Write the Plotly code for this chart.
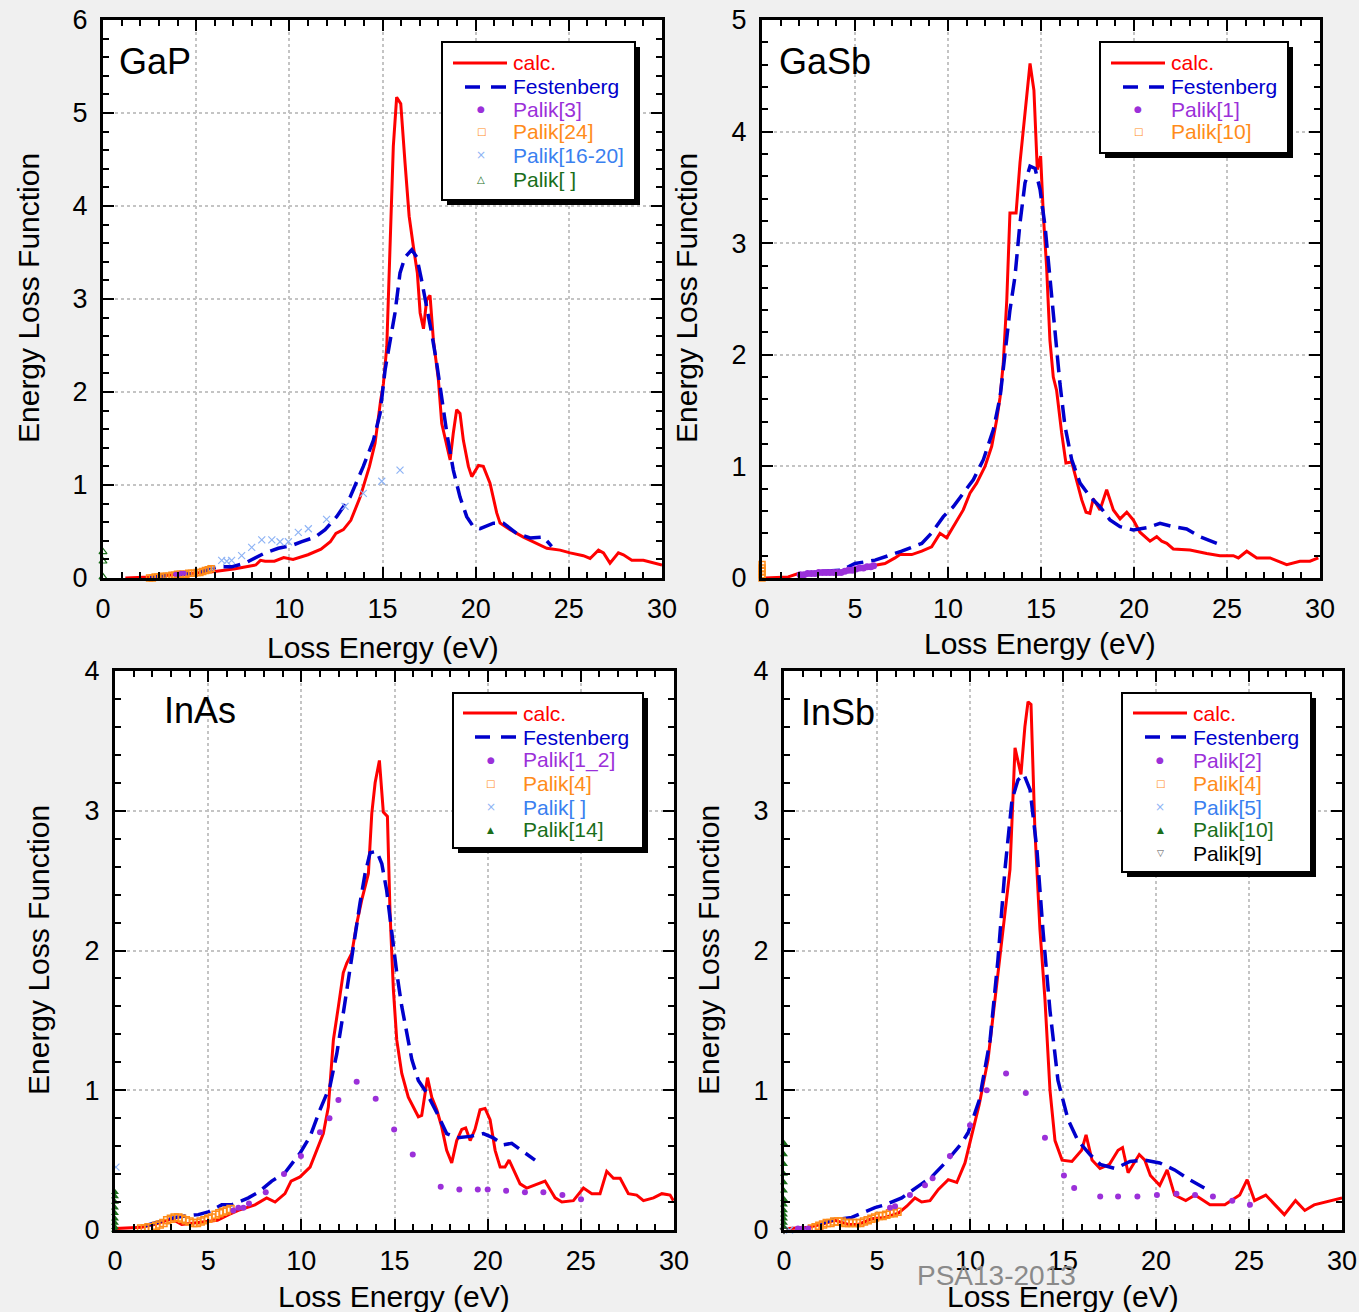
import plotly.graph_objects as go

W, H = 1359, 1312
FONT = "Liberation Sans, Arial, sans-serif"

# ---------------- DATA ----------------
# GaP
gap_calc_e = [1.2, 2.5, 3.5, 4.9, 6.0, 7.1, 8.2, 8.45, 8.7, 9.2, 9.7, 10.2, 11.0, 11.7, 12.2, 12.5, 12.9, 13.3, 13.8, 14.3,
              14.6, 14.9, 15.05, 15.23, 15.4, 15.58, 15.76, 15.98, 16.21, 16.43, 16.66, 16.87, 17.02, 17.2, 17.37,
              17.55, 17.73, 18.0, 18.18, 18.63, 18.8, 18.98, 19.16, 19.34, 19.61, 19.79, 20.15, 20.41, 20.77, 21.13,
              21.31, 21.85, 22.56, 23.28, 23.82, 24.53, 25.07, 25.78, 26.14, 26.59, 26.86, 27.21, 27.66, 27.93, 28.38,
              29.0, 29.54, 30.0]
gap_calc_v = [0.0, 0.01, 0.03, 0.05, 0.07, 0.10, 0.14, 0.19, 0.18, 0.18, 0.22, 0.20, 0.25, 0.31, 0.39, 0.48, 0.52, 0.62,
              0.87, 1.20, 1.45, 1.91, 2.09, 2.49, 3.56, 4.64, 5.17, 5.10, 4.46, 3.89, 3.56, 3.28, 2.85, 2.68, 2.99,
              3.04, 2.56, 2.13, 1.66, 1.27, 1.56, 1.81, 1.77, 1.48, 1.20, 1.09, 1.21, 1.20, 1.02, 0.70, 0.59, 0.52,
              0.44, 0.37, 0.32, 0.30, 0.27, 0.24, 0.21, 0.30, 0.27, 0.16, 0.27, 0.25, 0.19, 0.19, 0.16, 0.14]
gap_fest_e = [2.5, 4.94, 6.19, 6.9, 7.62, 8.7, 9.41, 10.13, 10.67, 11.38, 11.92, 12.54, 13.26, 13.97, 14.51, 14.87,
              15.14, 15.4, 15.67, 15.94, 16.21, 16.57, 16.84, 17.1, 17.37, 17.64, 17.91, 18.18, 18.45, 18.8, 19.16,
              19.52, 19.88, 20.24, 20.95, 21.49, 22.2, 22.92, 23.64, 24.08]
gap_fest_v = [0.01, 0.05, 0.12, 0.12, 0.16, 0.27, 0.32, 0.35, 0.39, 0.44, 0.52, 0.66, 0.87, 1.20, 1.48, 1.77, 2.24,
              2.56, 2.85, 3.28, 3.45, 3.53, 3.45, 3.20, 2.92, 2.63, 2.31, 1.91, 1.56, 1.16, 0.87, 0.66, 0.55, 0.53,
              0.59, 0.59, 0.48, 0.43, 0.44, 0.34]
gap_p3_e = [3.9, 4.05, 4.2, 4.35]
gap_p3_v = [0.04, 0.04, 0.05, 0.05]
gap_p24_e = [2.5, 2.65, 2.8, 2.95, 3.1, 3.25, 3.4, 3.55, 3.7, 3.85, 4.0, 4.15, 4.3, 4.45, 4.6, 4.75, 4.9, 5.05, 5.2,
             5.35, 5.5, 5.65, 5.8]
gap_p24_v = [0.00, 0.00, 0.01, 0.01, 0.01, 0.02, 0.02, 0.02, 0.03, 0.03, 0.04, 0.04, 0.04, 0.04, 0.05, 0.05, 0.05,
             0.06, 0.06, 0.07, 0.08, 0.09, 0.10]
gap_p1620_e = [5.83, 6.37, 6.64, 6.9, 7.44, 7.98, 8.52, 9.06, 9.5, 9.95, 10.48, 11.02, 12.0, 12.99, 13.97, 14.96, 15.94]
gap_p1620_v = [0.10, 0.19, 0.18, 0.19, 0.24, 0.33, 0.41, 0.41, 0.39, 0.39, 0.49, 0.53, 0.63, 0.77, 0.91, 1.04, 1.16]
gap_pe_e = [0.0, 0.0, 0.0]
gap_pe_v = [0.01, 0.18, 0.28]

# GaSb
gasb_calc_e = [0.16, 1.41, 1.95, 3.2, 4.28, 5.54, 6.61, 7.15, 7.42, 8.05, 8.59, 9.12, 9.57, 9.93, 10.38, 10.82, 11.18,
               11.54, 11.99, 12.35, 12.62, 12.8, 12.97, 13.16, 13.33, 13.66, 13.87, 14.14, 14.41, 14.62, 14.8, 14.98,
               15.13, 15.3, 15.48, 15.66, 15.84, 16.11, 16.34, 16.65, 16.92, 17.19, 17.42, 17.63, 17.81, 18.17, 18.53,
               18.89, 19.25, 19.61, 19.96, 20.32, 20.86, 21.22, 21.49, 21.76, 22.11, 23.01, 23.91, 24.62, 25.34, 25.61,
               26.06, 26.6, 27.31, 28.21, 28.92, 29.46, 29.91]
gasb_calc_v = [0.0, 0.01, 0.04, 0.04, 0.06, 0.10, 0.13, 0.18, 0.21, 0.21, 0.24, 0.28, 0.40, 0.36, 0.49, 0.61, 0.76,
               0.85, 1.0, 1.18, 1.42, 1.62, 1.92, 2.49, 3.27, 3.27, 3.72, 4.19, 4.61, 4.37, 3.66, 3.78, 3.24, 2.79,
               2.13, 1.80, 1.68, 1.30, 1.03, 1.04, 0.88, 0.70, 0.59, 0.58, 0.71, 0.61, 0.79, 0.61, 0.53, 0.59, 0.52,
               0.41, 0.33, 0.37, 0.33, 0.31, 0.26, 0.25, 0.22, 0.20, 0.20, 0.18, 0.24, 0.18, 0.18, 0.12, 0.15, 0.15,
               0.18]
gasb_fest_e = [1.95, 3.2, 4.28, 5.0, 6.08, 7.51, 8.59, 9.1, 9.75, 10.29, 10.82, 11.36, 11.9, 12.44, 12.8, 13.06, 13.33,
               13.6, 13.87, 14.14, 14.41, 14.68, 14.95, 15.22, 15.48, 15.75, 16.02, 16.29, 16.65, 17.1, 17.63, 18.17,
               18.71, 19.25, 19.96, 20.68, 21.4, 22.11, 22.83, 23.55, 24.62]
gasb_fest_v = [0.03, 0.06, 0.07, 0.13, 0.16, 0.24, 0.31, 0.40, 0.55, 0.64, 0.76, 0.88, 1.06, 1.33, 1.62, 1.98, 2.40,
               2.70, 3.18, 3.54, 3.69, 3.67, 3.48, 3.15, 2.70, 2.28, 1.74, 1.36, 1.06, 0.85, 0.73, 0.64, 0.52, 0.46,
               0.43, 0.45, 0.49, 0.46, 0.44, 0.37, 0.30]
gasb_p1_e = [2.05, 2.25, 2.45, 2.65, 2.85, 3.05, 3.25, 3.45, 3.65, 3.85, 4.05, 4.25, 4.45, 4.65, 4.85, 5.05, 5.25,
             5.45, 5.65, 5.85, 6.0]
gasb_p1_v = [0.03, 0.03, 0.04, 0.04, 0.04, 0.05, 0.05, 0.05, 0.05, 0.05, 0.05, 0.05, 0.06, 0.07, 0.07, 0.08, 0.09,
             0.09, 0.10, 0.10, 0.11]
gasb_p10_e = [0.0, 0.0, 0.0, 0.0, 0.0]
gasb_p10_v = [0.0, 0.03, 0.06, 0.09, 0.12]

# InAs
inas_calc_e = [0, 1.43, 2.15, 3.04, 3.58, 4.29, 4.83, 5.5, 6.1, 6.62, 7.51, 8.14, 8.59, 9.12, 9.45, 9.93, 10.47, 10.83,
               11.18, 11.45, 11.72, 11.99, 12.25, 12.44, 12.71, 12.97, 13.24, 13.6, 13.78, 13.96, 14.19, 14.4, 14.62,
               14.76, 14.94, 15.12, 15.39, 15.74, 16.01, 16.28, 16.46, 16.77, 17.0, 17.27, 17.53, 17.8, 18.07, 18.34,
               18.61, 18.82, 19.06, 19.32, 19.59, 19.86, 20.13, 20.4, 20.67, 20.93, 21.15, 21.38, 21.74, 22.1, 22.54,
               23.08, 23.35, 23.62, 23.98, 24.6, 25.14, 25.59, 26.03, 26.39, 26.75, 27.11, 27.55, 28.0, 28.36, 28.9,
               29.35, 29.79, 29.97]
inas_calc_v = [0.01, 0.02, 0.04, 0.08, 0.04, 0.05, 0.06, 0.07, 0.11, 0.14, 0.18, 0.23, 0.20, 0.26, 0.35, 0.38, 0.45,
               0.57, 0.69, 0.88, 1.36, 1.60, 1.84, 1.91, 1.98, 2.19, 2.36, 2.55, 2.98, 3.20, 3.36, 2.99, 2.96, 2.27,
               1.72, 1.36, 1.12, 0.95, 0.88, 0.81, 0.82, 1.09, 0.95, 0.86, 0.74, 0.57, 0.48, 0.64, 0.72, 0.73, 0.64,
               0.72, 0.86, 0.87, 0.79, 0.57, 0.45, 0.45, 0.50, 0.43, 0.33, 0.30, 0.32, 0.35, 0.29, 0.23, 0.20, 0.21,
               0.30, 0.26, 0.26, 0.42, 0.37, 0.37, 0.26, 0.25, 0.21, 0.23, 0.26, 0.25, 0.21]
inas_fest_e = [1.61, 3.22, 3.76, 4.47, 5.01, 5.73, 6.26, 7.16, 7.69, 8.41, 9.12, 9.66, 9.93, 10.47, 11.0, 11.54, 11.9,
               12.25, 12.61, 12.88, 13.15, 13.42, 13.69, 14.05, 14.32, 14.58, 14.85, 15.12, 15.39, 15.66, 15.93, 16.28,
               16.73, 17.27, 17.8, 18.34, 19.06, 19.77, 20.3, 20.84, 21.29, 21.92, 22.54]
inas_fest_v = [0.03, 0.09, 0.10, 0.11, 0.13, 0.18, 0.18, 0.23, 0.27, 0.35, 0.41, 0.50, 0.55, 0.67, 0.86, 1.03, 1.26,
               1.55, 1.88, 2.10, 2.34, 2.55, 2.70, 2.71, 2.62, 2.43, 2.12, 1.84, 1.60, 1.41, 1.22, 1.07, 0.98, 0.84,
               0.69, 0.66, 0.67, 0.69, 0.66, 0.61, 0.62, 0.56, 0.50]
inas_p12_e = [6.35, 6.62, 6.89, 7.19, 8.09, 9.07, 9.98, 11.0, 11.51, 11.99, 12.97, 13.99, 14.98, 15.98, 17.48, 18.48,
              19.47, 20.0, 20.99, 22.0, 22.99, 24.01, 25.01]
inas_p12_v = [0.14, 0.16, 0.16, 0.19, 0.27, 0.40, 0.53, 0.70, 0.80, 0.93, 1.06, 0.94, 0.72, 0.54, 0.31, 0.29, 0.29,
              0.29, 0.28, 0.27, 0.27, 0.25, 0.22]
inas_p4_e = [1.4, 1.6, 1.8, 2.0, 2.2, 2.4, 2.6, 2.8, 3.0, 3.2, 3.4, 3.6, 3.8, 4.0, 4.2, 4.4, 4.6, 4.8, 5.0, 5.2, 5.4,
             5.6, 5.8, 6.0, 6.2]
inas_p4_v = [0.01, 0.01, 0.02, 0.02, 0.03, 0.04, 0.05, 0.07, 0.08, 0.09, 0.09, 0.08, 0.07, 0.06, 0.05, 0.05, 0.06,
             0.07, 0.08, 0.09, 0.11, 0.12, 0.13, 0.14, 0.15]
inas_pe_e = [0.05]
inas_pe_v = [0.45]
inas_p14_e = [0, 0, 0, 0, 0, 0, 0, 0, 0]
inas_p14_v = [0.0, 0.02, 0.05, 0.08, 0.12, 0.16, 0.20, 0.24, 0.27]

# InSb
insb_calc_e = [0.23, 1.31, 2.03, 2.74, 3.46, 4.0, 4.71, 5.43, 6.15, 6.6, 7.04, 7.4, 7.85, 8.3, 8.83, 9.29, 9.73, 10.09,
               10.5, 10.97, 11.6, 12.15, 12.42, 12.74, 12.95, 13.12, 13.28, 13.49, 13.76, 14.03, 14.3, 14.57, 14.95,
               15.48, 16.0, 16.24, 16.56, 16.99, 17.5, 17.96, 18.2, 18.5, 19.1, 19.4, 19.7, 20.2, 20.6, 21.0, 21.6,
               22.1, 22.9, 23.7, 24.5, 24.9, 25.3, 25.9, 26.4, 26.9, 27.5, 28.0, 28.5, 29.4, 30.0]
insb_calc_v = [0.01, 0.02, 0.04, 0.07, 0.04, 0.04, 0.08, 0.09, 0.12, 0.17, 0.23, 0.20, 0.21, 0.29, 0.36, 0.34, 0.48,
               0.67, 0.90, 1.22, 1.93, 2.58, 3.45, 3.26, 3.60, 3.78, 3.76, 2.86, 2.15, 1.65, 1.00, 0.64, 0.50, 0.49,
               0.57, 0.68, 0.50, 0.44, 0.47, 0.57, 0.59, 0.41, 0.54, 0.50, 0.39, 0.32, 0.43, 0.25, 0.21, 0.25, 0.18,
               0.18, 0.25, 0.36, 0.21, 0.25, 0.18, 0.11, 0.21, 0.14, 0.18, 0.21, 0.23]
insb_fest_e = [1.84, 2.56, 3.64, 4.89, 5.43, 6.33, 7.4, 7.94, 8.66, 9.02, 9.55, 9.91, 10.5, 11.08, 11.5, 11.88, 12.26,
               12.58, 12.9, 13.23, 13.6, 13.92, 14.3, 14.73, 15.27, 15.8, 16.45, 17.0, 17.8, 18.6, 19.4, 20.2, 21.0,
               21.8, 22.6]
insb_fest_v = [0.04, 0.07, 0.09, 0.16, 0.18, 0.23, 0.33, 0.38, 0.48, 0.54, 0.62, 0.70, 0.93, 1.36, 1.93, 2.58, 3.08,
               3.22, 3.26, 3.15, 2.72, 2.15, 1.57, 1.07, 0.79, 0.64, 0.54, 0.47, 0.44, 0.49, 0.50, 0.48, 0.43, 0.36,
               0.30]
insb_p2_e = [0.75, 1.0, 1.3, 5.7, 5.97, 6.77, 7.58, 7.99, 8.92, 10.0, 10.9, 11.94, 13.0, 14.03, 15.05, 15.6, 17.0,
             17.96, 19.0, 20.05, 21.1, 22.1, 23.06, 24.1, 25.05]
insb_p2_v = [0.01, 0.01, 0.01, 0.16, 0.17, 0.25, 0.32, 0.37, 0.53, 0.75, 1.0, 1.12, 0.98, 0.66, 0.39, 0.30, 0.24,
             0.24, 0.24, 0.25, 0.26, 0.25, 0.24, 0.21, 0.18]
insb_p4_e = [1.5, 1.7, 1.9, 2.1, 2.3, 2.5, 2.7, 2.9, 3.1, 3.3, 3.5, 3.7, 3.9, 4.1, 4.3, 4.5, 4.7, 4.9, 5.1, 5.3, 5.5,
             5.7, 5.9, 6.1]
insb_p4_v = [0.01, 0.02, 0.03, 0.04, 0.05, 0.05, 0.06, 0.06, 0.06, 0.05, 0.05, 0.05, 0.05, 0.05, 0.06, 0.07, 0.08,
             0.09, 0.10, 0.10, 0.11, 0.12, 0.12, 0.13]
insb_p5_e = [0.3]
insb_p5_v = [0.0]
insb_p10_e = [0, 0, 0, 0, 0, 0, 0, 0, 0, 0, 0, 0, 0]
insb_p10_v = [0.02, 0.05, 0.08, 0.11, 0.14, 0.18, 0.22, 0.28, 0.34, 0.40, 0.47, 0.54, 0.62]
insb_p9_e = [0.0]
insb_p9_v = [0.0]

x_ticks = [0, 5, 10, 15, 20, 25, 30]

# ---------------- STYLE ----------------
RED = "#ff0000"
BLUE = "#0000cc"
PURPLE = "#9b30d9"
ORANGE = "#ff8c1a"
LBLUE = "#8fb4f5"
LBLUE_TXT = "#3a80f0"
GREEN = "#1a6e1a"
BLACK = "#000000"


def px(x):
    return x / W


def py(y):
    return 1 - y / H


fig = go.Figure()

panels = [
    dict(label="GaP", box=(103, 662, 20, 578), ymax=6),
    dict(label="GaSb", box=(762, 1320, 20, 578), ymax=5),
    dict(label="InAs", box=(115, 674, 671, 1230), ymax=4),
    dict(label="InSb", box=(784, 1342, 671, 1230), ymax=4),
]

for i, p in enumerate(panels):
    sfx = "" if i == 0 else str(i + 1)
    x0, x1, y0, y1 = p["box"]
    common = dict(
        showline=True, linewidth=3, linecolor="black", mirror="allticks",
        ticks="inside", ticklen=11, tickwidth=2, tickcolor="black",
        showgrid=True, gridcolor="#c4c4c4", gridwidth=2, griddash="dot",
        zeroline=False, automargin=False,
        tickfont=dict(family=FONT, size=27, color="black"),
    )
    fig.layout["xaxis" + sfx] = dict(
        domain=[px(x0), px(x1)], range=[0, 30], anchor="y" + sfx,
        tickvals=x_ticks, ticklabelstandoff=5,
        minor=dict(dtick=1, ticks="inside", ticklen=6, tickwidth=2, tickcolor="black", showgrid=False),
        **common)
    fig.layout["yaxis" + sfx] = dict(
        domain=[py(y1), py(y0)], range=[0, p["ymax"]], anchor="x" + sfx,
        dtick=1, ticklabelstandoff=7,
        minor=dict(dtick=0.2, ticks="inside", ticklen=6, tickwidth=2, tickcolor="black", showgrid=False),
        **common)


def line(e, v, ax, color, dash=None, width=3):
    fig.add_trace(go.Scatter(x=e, y=v, xaxis="x" + ax, yaxis="y" + ax, mode="lines",
                             line=dict(color=color, width=width, dash=dash), showlegend=False,
                             hoverinfo="skip"))


def mark(e, v, ax, color, symbol, size=6, lw=1.5):
    fig.add_trace(go.Scatter(x=e, y=v, xaxis="x" + ax, yaxis="y" + ax, mode="markers",
                             marker=dict(color=color, symbol=symbol, size=size, line=dict(color=color, width=lw)),
                             showlegend=False, cliponaxis=False, hoverinfo="skip"))


DASH = "17px,8px"
# GaP
line(gap_calc_e, gap_calc_v, "", RED)
line(gap_fest_e, gap_fest_v, "", BLUE, DASH, 3.5)
mark(gap_p1620_e, gap_p1620_v, "", LBLUE, "x-thin-open", 7, 1.2)
mark(gap_p24_e, gap_p24_v, "", ORANGE, "square-open", 6, 1.5)
mark(gap_p3_e, gap_p3_v, "", PURPLE, "circle", 5, 0)
mark(gap_pe_e, gap_pe_v, "", GREEN, "triangle-up-open", 7, 1.2)
# GaSb
line(gasb_calc_e, gasb_calc_v, "2", RED)
line(gasb_fest_e, gasb_fest_v, "2", BLUE, DASH, 3.5)
mark(gasb_p1_e, gasb_p1_v, "2", PURPLE, "circle", 7, 0)
mark(gasb_p10_e, gasb_p10_v, "2", ORANGE, "square-open", 6, 1.5)
# InAs
line(inas_calc_e, inas_calc_v, "3", RED)
line(inas_fest_e, inas_fest_v, "3", BLUE, DASH, 3.5)
mark(inas_p4_e, inas_p4_v, "3", ORANGE, "square-open", 7, 1.5)
mark(inas_p12_e, inas_p12_v, "3", PURPLE, "circle", 6, 0)
mark(inas_pe_e, inas_pe_v, "3", LBLUE, "x-thin-open", 7, 1.2)
mark(inas_p14_e, inas_p14_v, "3", GREEN, "triangle-up", 7, 0)
# InSb
line(insb_calc_e, insb_calc_v, "4", RED)
line(insb_fest_e, insb_fest_v, "4", BLUE, DASH, 3.5)
mark(insb_p4_e, insb_p4_v, "4", ORANGE, "square-open", 7, 1.5)
mark(insb_p2_e, insb_p2_v, "4", PURPLE, "circle", 6, 0)
mark(insb_p5_e, insb_p5_v, "4", LBLUE, "x-thin-open", 7, 1.2)
mark(insb_p10_e, insb_p10_v, "4", GREEN, "triangle-up", 7, 0)
mark(insb_p9_e, insb_p9_v, "4", "#444444", "triangle-down-open", 7, 1.2)

# ---------------- LEGENDS (drawn manually) ----------------
legends = [
    dict(box=(442, 42, 635, 200), line=(453, 507), dash=(465, 506), mx=481, tx=511,
         rows=[63, 87, 109, 132, 155, 179],
         items=[("line", RED, "calc."), ("dash", BLUE, "Festenberg"),
                (("●", 9, PURPLE), PURPLE, "Palik[3]"), (("□", 10, ORANGE), ORANGE, "Palik[24]"),
                (("×", 12, LBLUE), LBLUE_TXT, "Palik[16-20]"), (("△", 10, GREEN), GREEN, "Palik[ ]")]),
    dict(box=(1100, 42, 1288, 153), line=(1111, 1165), dash=(1123, 1164), mx=1138, tx=1169,
         rows=[63, 87, 109, 132],
         items=[("line", RED, "calc."), ("dash", BLUE, "Festenberg"),
                (("●", 9, PURPLE), PURPLE, "Palik[1]"), (("□", 10, ORANGE), ORANGE, "Palik[10]")]),
    dict(box=(453, 693, 643, 848), line=(463, 517), dash=(475, 516), mx=491, tx=521,
         rows=[713, 737, 760, 783, 807, 830],
         items=[("line", RED, "calc."), ("dash", BLUE, "Festenberg"),
                (("●", 9, PURPLE), PURPLE, "Palik[1_2]"), (("□", 10, ORANGE), ORANGE, "Palik[4]"),
                (("×", 12, LBLUE), LBLUE_TXT, "Palik[ ]"), (("▲", 9, GREEN), GREEN, "Palik[14]")]),
    dict(box=(1122, 693, 1311, 872), line=(1133, 1187), dash=(1145, 1186), mx=1160, tx=1191,
         rows=[713, 737, 760, 783, 807, 830, 853],
         items=[("line", RED, "calc."), ("dash", BLUE, "Festenberg"),
                (("●", 9, PURPLE), PURPLE, "Palik[2]"), (("□", 10, ORANGE), ORANGE, "Palik[4]"),
                (("×", 12, LBLUE), LBLUE_TXT, "Palik[5]"), (("▲", 9, GREEN), GREEN, "Palik[10]"),
                (("▽", 9, "#555555"), BLACK, "Palik[9]")]),
]

shapes = []
annotations = []
for lg in legends:
    bx0, by0, bx1, by1 = lg["box"]
    shapes.append(dict(type="rect", xref="paper", yref="paper", layer="above",
                       x0=px(bx0 + 5), x1=px(bx1 + 5), y0=py(by1 + 5), y1=py(by0 + 5),
                       fillcolor="black", line=dict(width=0)))
    shapes.append(dict(type="rect", xref="paper", yref="paper", layer="above",
                       x0=px(bx0), x1=px(bx1), y0=py(by1), y1=py(by0),
                       fillcolor="white", line=dict(color="black", width=2)))
    for (kind, tcol, text), ry in zip(lg["items"], lg["rows"]):
        if kind == "line":
            shapes.append(dict(type="line", xref="paper", yref="paper", layer="above",
                               x0=px(lg["line"][0]), x1=px(lg["line"][1]), y0=py(ry), y1=py(ry),
                               line=dict(color=RED, width=3)))
        elif kind == "dash":
            shapes.append(dict(type="line", xref="paper", yref="paper", layer="above",
                               x0=px(lg["dash"][0]), x1=px(lg["dash"][1]), y0=py(ry), y1=py(ry),
                               line=dict(color=BLUE, width=3.5, dash="15px,11px")))
        else:
            g, gs, gc = kind
            annotations.append(dict(xref="paper", yref="paper", x=px(lg["mx"]), y=py(ry), text=g,
                                    showarrow=False, xanchor="center", yanchor="middle",
                                    font=dict(family="DejaVu Sans", size=gs, color=gc)))
        annotations.append(dict(xref="paper", yref="paper", x=px(lg["tx"]), y=py(ry), text=text,
                                showarrow=False, xanchor="left", yanchor="middle",
                                font=dict(family=FONT, size=21, color=tcol)))

# panel labels
for lab, (lx, ly) in zip(["GaP", "GaSb", "InAs", "InSb"], [(117, 61), (777, 61), (162, 711), (799, 712)]):
    annotations.append(dict(xref="paper", yref="paper", x=px(lx), y=py(ly), text=lab, showarrow=False,
                            xanchor="left", yanchor="middle", font=dict(family=FONT, size=36, color="black")))

# axis titles
for (cx, cy) in [(383, 647), (1040, 643), (394, 1296), (1063, 1296)]:
    annotations.append(dict(xref="paper", yref="paper", x=px(cx), y=py(cy), text="Loss Energy (eV)",
                            showarrow=False, xanchor="center", yanchor="middle",
                            font=dict(family=FONT, size=30, color="black")))
for (cx, cy) in [(28, 298), (686, 298), (38, 950), (708, 950)]:
    annotations.append(dict(xref="paper", yref="paper", x=px(cx), y=py(cy), text="Energy Loss Function",
                            showarrow=False, xanchor="center", yanchor="middle", textangle=-90,
                            font=dict(family=FONT, size=30, color="black")))

# watermark (overlaps the axis labels in the original too)
annotations.append(dict(xref="paper", yref="paper", x=px(996), y=py(1275), text="PSA13-2013",
                        showarrow=False, xanchor="center", yanchor="middle",
                        font=dict(family=FONT, size=28, color="#8a8a8a")))

fig.update_layout(
    width=W, height=H, margin=dict(l=0, r=0, t=0, b=0),
    paper_bgcolor="#f0f0f0", plot_bgcolor="white",
    showlegend=False, shapes=shapes, annotations=annotations,
    font=dict(family=FONT),
)

fig.write_html("out.html")
